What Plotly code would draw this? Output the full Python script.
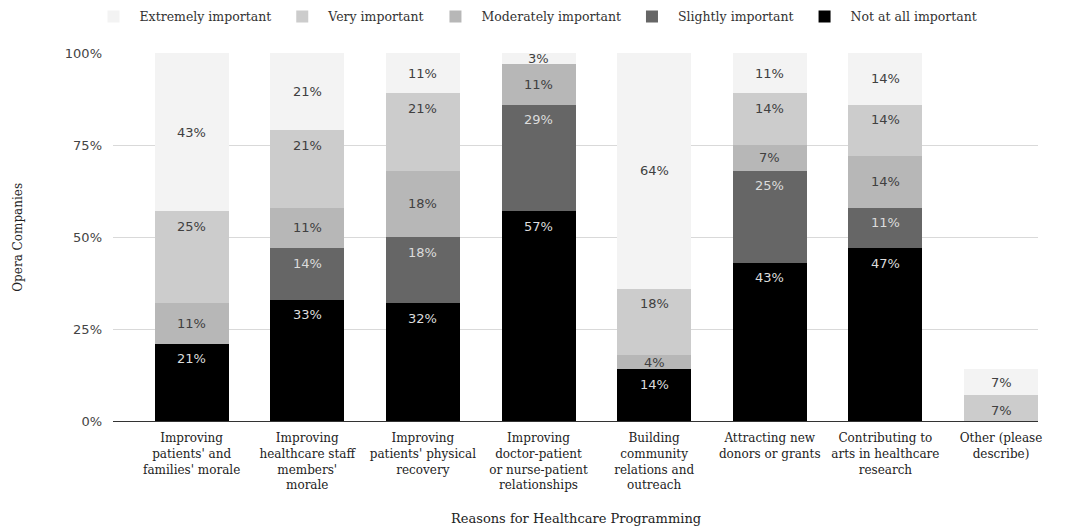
import plotly.graph_objects as go

categories = [
    "Improving<br>patients' and<br>families' morale",
    "Improving<br>healthcare staff<br>members'<br>morale",
    "Improving<br>patients' physical<br>recovery",
    "Improving<br>doctor-patient<br>or nurse-patient<br>relationships",
    "Building<br>community<br>relations and<br>outreach",
    "Attracting new<br>donors or grants",
    "Contributing to<br>arts in healthcare<br>research",
    "Other (please<br>describe)",
]

not_at_all = [21, 33, 32, 57, 14, 43, 47, 0]
slightly = [0, 14, 18, 29, 0, 25, 11, 0]
moderately = [11, 11, 18, 11, 4, 7, 14, 0]
very = [25, 21, 21, 0, 18, 14, 14, 7]
extremely = [43, 21, 11, 3, 64, 11, 14, 7]

series = [
    ("Not at all important", not_at_all, "#000000", "#dcdcdc", "end"),
    ("Slightly important", slightly, "#666666", "#dcdcdc", "end"),
    ("Moderately important", moderately, "#b7b7b7", "#404040", "middle"),
    ("Very important", very, "#cccccc", "#404040", "end"),
    ("Extremely important", extremely, "#f3f3f3", "#404040", "middle"),
]

serif = "DejaVu Serif"
sans = "DejaVu Sans"
BAR_W = 0.64
n = len(categories)

fig = go.Figure()
cum = [0] * n
annotations = []
for name, vals, color, tcolor, pos in series:
    fig.add_trace(go.Bar(
        name=name, x=list(range(n)), y=vals, width=BAR_W,
        marker=dict(color=color, line=dict(width=0)),
        hoverinfo="skip",
    ))
    for i, v in enumerate(vals):
        top = cum[i] + v
        if v > 0:
            if pos == "middle":
                annotations.append(dict(x=i, y=cum[i] + v / 2, text=f"{v}%",
                                        showarrow=False, yanchor="middle",
                                        font=dict(family=sans, size=13, color=tcolor)))
            else:
                annotations.append(dict(x=i, y=top, yshift=-15, text=f"{v}%",
                                        showarrow=False, yanchor="middle",
                                        font=dict(family=sans, size=13, color=tcolor)))
        cum[i] = top

annotations.append(dict(text="Reasons for Healthcare Programming", xref="paper", yref="paper",
                        x=0.5, y=-0.266, showarrow=False, yanchor="middle",
                        font=dict(family=serif, size=13, color="#222222")))
annotations.append(dict(text="Opera Companies", xref="paper", yref="paper",
                        x=-0.103, y=0.5, showarrow=False, textangle=-90, xanchor="center",
                        font=dict(family=serif, size=12, color="#222222")))

fig.update_layout(
    barmode="stack",
    width=1067, height=529,
    margin=dict(l=113, r=29, t=53, b=108, autoexpand=False),
    paper_bgcolor="white", plot_bgcolor="white",
    annotations=annotations,
    legend=dict(orientation="h", xref="container", yref="container",
                x=0.082, xanchor="left", y=0.968, yanchor="middle",
                traceorder="reversed",
                font=dict(family=serif, size=12.5, color="#333333"),
                itemwidth=42),
    xaxis=dict(
        tickmode="array", tickvals=list(range(n)), ticktext=categories,
        range=[-BAR_W / 2 - (1 - BAR_W), n - 1 + BAR_W / 2],
        tickfont=dict(family=serif, size=12, color="#222222"),
        showgrid=False, showline=True, linecolor="#333333", linewidth=1,
        ticks="", automargin=False, ticklabelstandoff=6,
    ),
    yaxis=dict(
        range=[0, 100], tickvals=[0, 25, 50, 75, 100],
        ticktext=["0%", "25%", "50%", "75%", "100%"],
        tickfont=dict(family=sans, size=13, color="#444444"),
        showgrid=True, gridcolor="#d9d9d9", gridwidth=1,
        zeroline=False, ticks="", ticklabelstandoff=10, automargin=False,
    ),
    showlegend=True,
)

fig.write_html("out.html")
